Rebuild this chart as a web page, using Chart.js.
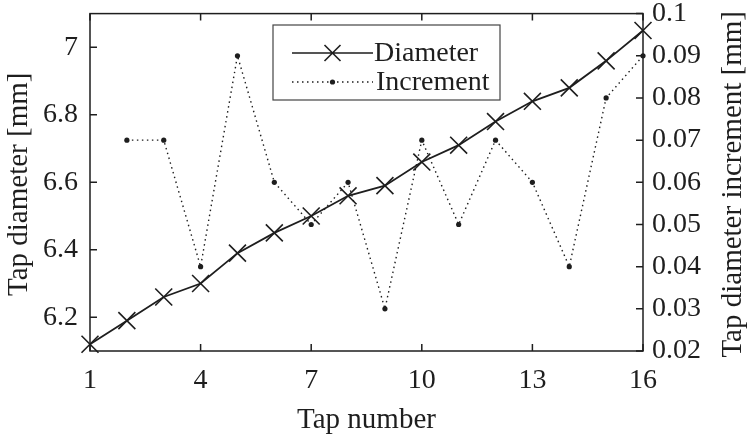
<!DOCTYPE html>
<html>
<head>
<meta charset="utf-8">
<script src="https://cdn.jsdelivr.net/npm/chart.js@4.4.1/dist/chart.umd.min.js"></script>
<style>
  html, body { margin: 0; padding: 0; background: #fff; }
  #wrap { width: 748px; height: 438px; }
</style>
</head>
<body>
<div id="wrap"><canvas id="tapChart" width="748" height="438"></canvas></div>
<script>
// data
const tapNumbers = [1, 2, 3, 4, 5, 6, 7, 8, 9, 10, 11, 12, 13, 14, 15, 16];
const diameters = [6.12, 6.19, 6.26, 6.30, 6.39, 6.45, 6.50, 6.56, 6.59, 6.66, 6.71, 6.78, 6.84, 6.88, 6.96, 7.05];
const incrementTaps = [2, 3, 4, 5, 6, 7, 8, 9, 10, 11, 12, 13, 14, 15, 16];
const increments = [0.07, 0.07, 0.04, 0.09, 0.06, 0.05, 0.06, 0.03, 0.07, 0.05, 0.07, 0.06, 0.04, 0.08, 0.09];

const xTicks = [1, 4, 7, 10, 13, 16];
const leftTicks = [6.2, 6.4, 6.6, 6.8, 7.0];
const rightTicks = [0.02, 0.03, 0.04, 0.05, 0.06, 0.07, 0.08, 0.09, 0.1];

const FONT = "'Liberation Serif', 'Times New Roman', serif";
const INK = "#1e1e1e";

const fmt = v => String(+Number(v).toFixed(2));

// no automatic padding for overhanging tick labels: keep plot box fixed
function fixBox(s, w, h) {
    if (w) s.width = w;
    if (h) s.height = h;
    s.paddingTop = 0;
    s.paddingBottom = 0;
    s.paddingLeft = 0;
    s.paddingRight = 0;
}

// ================== box, inward ticks, titles, legend ==================
const matlabFrame = {
    id: "matlabFrame",
    afterDatasetsDraw(chart) {
        const ctx = chart.ctx;
        const a = chart.chartArea;
        const sx = chart.scales.x, sl = chart.scales.y, sr = chart.scales.y1;
        const tl = 7;

        ctx.save();
        ctx.strokeStyle = INK;
        ctx.lineWidth = 1.5;
        ctx.strokeRect(a.left, a.top, a.right - a.left, a.bottom - a.top);

        ctx.beginPath();
        xTicks.forEach(t => {
            const px = sx.getPixelForValue(t);
            ctx.moveTo(px, a.bottom); ctx.lineTo(px, a.bottom - tl);
            ctx.moveTo(px, a.top); ctx.lineTo(px, a.top + tl);
        });
        leftTicks.forEach(t => {
            const py = sl.getPixelForValue(t);
            ctx.moveTo(a.left, py); ctx.lineTo(a.left + tl, py);
        });
        rightTicks.forEach(t => {
            const py = sr.getPixelForValue(t);
            ctx.moveTo(a.right, py); ctx.lineTo(a.right - tl, py);
        });
        ctx.stroke();

        // axis titles
        ctx.fillStyle = INK;
        ctx.font = "29px " + FONT;
        ctx.textAlign = "center";
        ctx.textBaseline = "alphabetic";
        ctx.fillText("Tap number", (a.left + a.right) / 2, 428);

        const midY = (a.top + a.bottom) / 2 + 2;
        ctx.save();
        ctx.translate(27, midY);
        ctx.rotate(-Math.PI / 2);
        ctx.fillText("Tap diameter [mm]", 0, 0);
        ctx.restore();

        ctx.save();
        ctx.translate(741, midY);
        ctx.rotate(-Math.PI / 2);
        ctx.fillText("Tap diameter increment [mm]", 0, 0);
        ctx.restore();

        // legend
        const bx = 273, by = 25, bw = 227, bh = 75;
        ctx.fillStyle = "#ffffff";
        ctx.fillRect(bx, by, bw, bh);
        ctx.strokeStyle = "#444444";
        ctx.lineWidth = 1.2;
        ctx.strokeRect(bx, by, bw, bh);

        const r1 = 53, r2 = 82, lx0 = 292, lx1 = 373;
        ctx.strokeStyle = INK;
        ctx.lineWidth = 1.6;
        ctx.beginPath();
        ctx.moveTo(lx0, r1); ctx.lineTo(lx1, r1);
        const cx = (lx0 + lx1) / 2, d = 8;
        ctx.moveTo(cx - d, r1 - d); ctx.lineTo(cx + d, r1 + d);
        ctx.moveTo(cx - d, r1 + d); ctx.lineTo(cx + d, r1 - d);
        ctx.stroke();

        ctx.setLineDash([1.5, 3.5]);
        ctx.lineWidth = 1.4;
        ctx.beginPath();
        ctx.moveTo(lx0, r2); ctx.lineTo(lx1, r2);
        ctx.stroke();
        ctx.setLineDash([]);
        ctx.fillStyle = INK;
        ctx.beginPath();
        ctx.arc(cx, r2, 2.6, 0, Math.PI * 2);
        ctx.fill();

        ctx.textAlign = "left";
        ctx.textBaseline = "middle";
        ctx.font = "28px " + FONT;
        ctx.fillText("Diameter", lx1 + 1, r1 + 1);
        ctx.fillText("Increment", lx1 + 3, r2 + 1);
        ctx.restore();
    }
};

const ctx = document.getElementById("tapChart").getContext("2d");

new Chart(ctx, {
    type: "line",
    data: {
        datasets: [
            {
                label: "Diameter",
                data: tapNumbers.map((t, i) => ({ x: t, y: diameters[i] })),
                yAxisID: "y",
                borderColor: INK,
                borderWidth: 1.8,
                pointStyle: "crossRot",
                pointRadius: 12,
                pointBorderWidth: 1.6,
                pointBorderColor: INK,
                tension: 0,
                clip: false
            },
            {
                label: "Increment",
                data: incrementTaps.map((t, i) => ({ x: t, y: increments[i] })),
                yAxisID: "y1",
                borderColor: INK,
                borderWidth: 1.4,
                borderDash: [1.5, 3.5],
                pointStyle: "circle",
                pointRadius: 2.6,
                pointBorderWidth: 0,
                pointBackgroundColor: INK,
                tension: 0,
                clip: false
            }
        ]
    },
    options: {
        responsive: false,
        animation: false,
        events: [],
        layout: { padding: { top: 10, left: 0, right: 0, bottom: 0 } },
        plugins: {
            legend: { display: false },
            tooltip: { enabled: false }
        },
        scales: {
            x: {
                type: "linear",
                min: 1,
                max: 16,
                afterBuildTicks: s => { s.ticks = xTicks.map(v => ({ value: v })); },
                afterFit: s => fixBox(s, 0, 87),
                grid: { display: false, drawTicks: false },
                border: { display: false },
                ticks: {
                    padding: 13,
                    color: INK,
                    font: { family: FONT, size: 28 },
                    maxRotation: 0,
                    callback: v => fmt(v)
                }
            },
            y: {
                position: "left",
                min: 6.1,
                max: 7.1,
                afterBuildTicks: s => { s.ticks = leftTicks.map(v => ({ value: v })); },
                afterFit: s => fixBox(s, 90, 0),
                grid: { display: false, drawTicks: false },
                border: { display: false },
                ticks: {
                    padding: 12,
                    color: INK,
                    font: { family: FONT, size: 28 },
                    callback: v => fmt(v)
                }
            },
            y1: {
                position: "right",
                min: 0.02,
                max: 0.1,
                afterBuildTicks: s => { s.ticks = rightTicks.map(v => ({ value: v })); },
                afterFit: s => fixBox(s, 105, 0),
                grid: { display: false, drawTicks: false },
                border: { display: false },
                ticks: {
                    padding: 9,
                    color: INK,
                    font: { family: FONT, size: 28 },
                    callback: v => fmt(v)
                }
            }
        }
    },
    plugins: [matlabFrame]
});
</script>
</body>
</html>
